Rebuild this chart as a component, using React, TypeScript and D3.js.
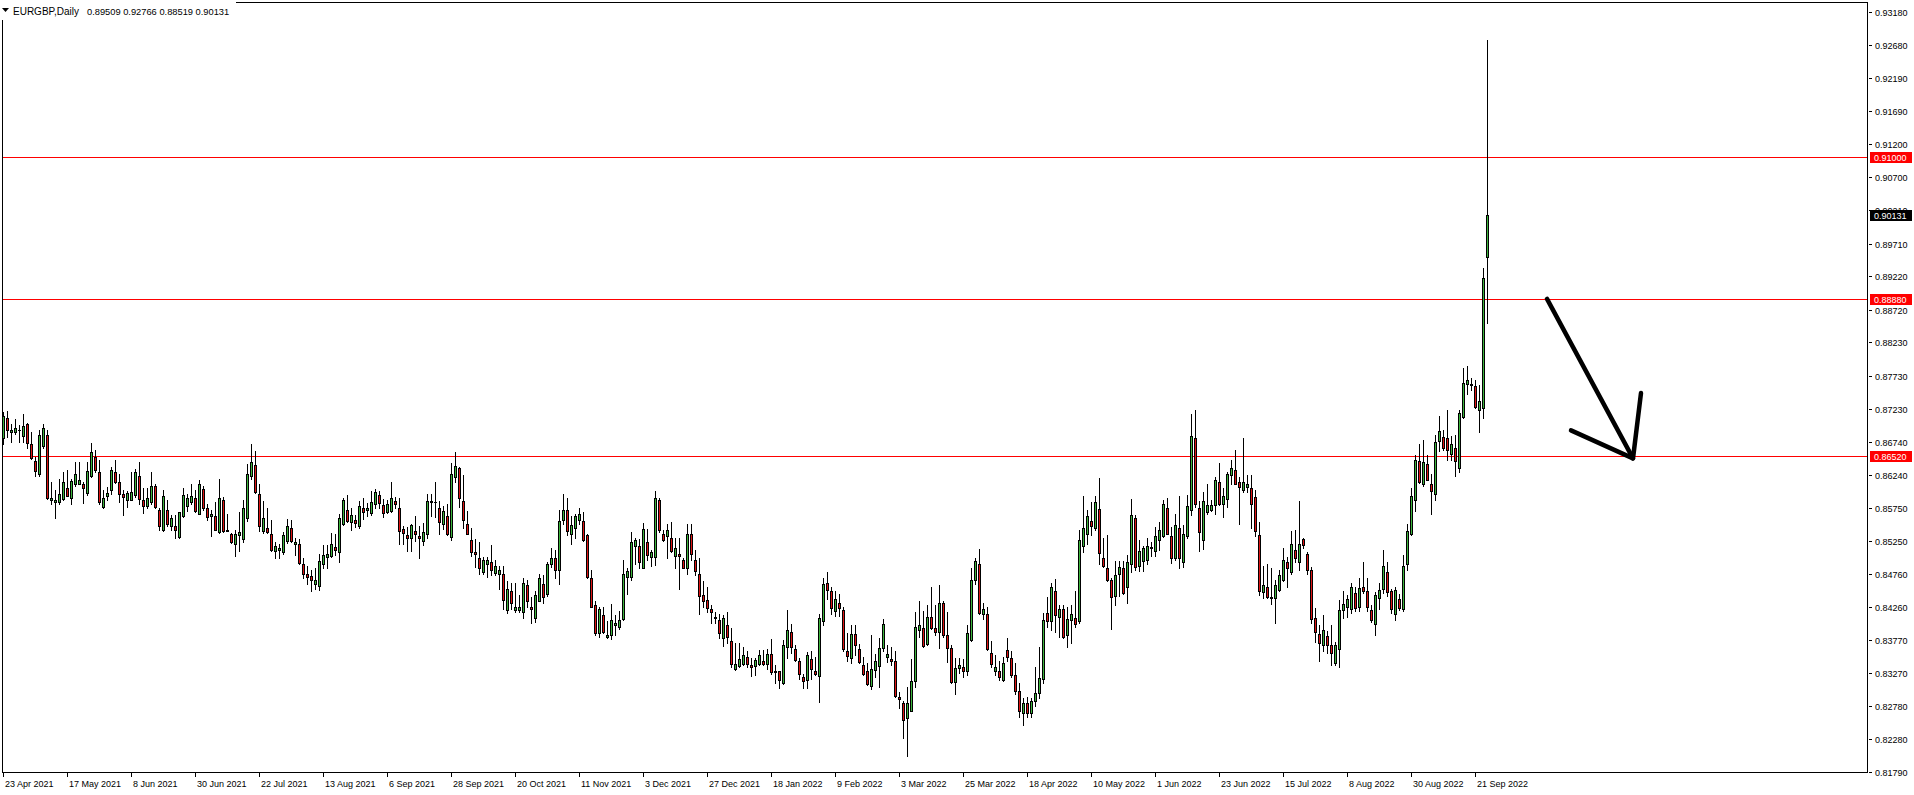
import React, { useMemo } from 'react'
import * as d3 from 'd3'

// EURGBP daily candles, 23 Apr 2021 .. 26 Sep 2022
const opens = [
  0.8679, 0.8709, 0.8688, 0.8688, 0.8691, 0.8683, 0.8701, 0.8670, 0.8645, 0.8626,
  0.8668, 0.8684, 0.8586, 0.8584, 0.8583, 0.8588, 0.8604, 0.8590, 0.8610, 0.8611,
  0.8611, 0.8597, 0.8622, 0.8651, 0.8628, 0.8576, 0.8592, 0.8601, 0.8628, 0.8613,
  0.8596, 0.8587, 0.8587, 0.8594, 0.8623, 0.8586, 0.8578, 0.8584, 0.8607, 0.8571,
  0.8542, 0.8572, 0.8548, 0.8548, 0.8531, 0.8563, 0.8578, 0.8584, 0.8589, 0.8566,
  0.8603, 0.8574, 0.8562, 0.8563, 0.8538, 0.8586, 0.8541, 0.8536, 0.8521, 0.8534,
  0.8528, 0.8560, 0.8623, 0.8639, 0.8596, 0.8540, 0.8545, 0.8536, 0.8510, 0.8512,
  0.8509, 0.8525, 0.8544, 0.8520, 0.8520, 0.8490, 0.8475, 0.8472, 0.8461, 0.8458,
  0.8490, 0.8501, 0.8503, 0.8516, 0.8509, 0.8550, 0.8571, 0.8554, 0.8556, 0.8548,
  0.8575, 0.8571, 0.8567, 0.8581, 0.8594, 0.8579, 0.8569, 0.8570, 0.8585, 0.8574,
  0.8543, 0.8534, 0.8530, 0.8540, 0.8532, 0.8525, 0.8535, 0.8583, 0.8584, 0.8575,
  0.8550, 0.8563, 0.8531, 0.8621, 0.8634, 0.8585, 0.8551, 0.8527, 0.8508, 0.8499,
  0.8479, 0.8491, 0.8493, 0.8477, 0.8476, 0.8476, 0.8422, 0.8450, 0.8422, 0.8422,
  0.8419, 0.8460, 0.8427, 0.8410, 0.8436, 0.8461, 0.8446, 0.8491, 0.8499, 0.8482,
  0.8556, 0.8571, 0.8536, 0.8545, 0.8557, 0.8555, 0.8534, 0.8469, 0.8429, 0.8388,
  0.8415, 0.8381, 0.8385, 0.8400, 0.8396, 0.8409, 0.8471, 0.8471, 0.8518, 0.8517,
  0.8485, 0.8523, 0.8501, 0.8501, 0.8587, 0.8535, 0.8533, 0.8529, 0.8502, 0.8506,
  0.8496, 0.8485, 0.8536, 0.8496, 0.8476, 0.8444, 0.8437, 0.8424, 0.8412, 0.8407,
  0.8380, 0.8399, 0.8376, 0.8334, 0.8338, 0.8341, 0.8351, 0.8339, 0.8338, 0.8341,
  0.8345, 0.8341, 0.8356, 0.8331, 0.8330, 0.8313, 0.8366, 0.8389, 0.8363, 0.8346,
  0.8321, 0.8317, 0.8349, 0.8331, 0.8323, 0.8406, 0.8463, 0.8450, 0.8421, 0.8433,
  0.8422, 0.8360, 0.8350, 0.8386, 0.8364, 0.8339, 0.8330, 0.8308, 0.8332, 0.8338,
  0.8365, 0.8351, 0.8348, 0.8345, 0.8291, 0.8283, 0.8260, 0.8271, 0.8316, 0.8392,
  0.8395, 0.8371, 0.8412, 0.8395, 0.8389, 0.8433, 0.8385, 0.8365, 0.8314, 0.8335,
  0.8337, 0.8331, 0.8377, 0.8466, 0.8490, 0.8416, 0.8416, 0.8358, 0.8330, 0.8330,
  0.8317, 0.8362, 0.8350, 0.8325, 0.8300, 0.8268, 0.8283, 0.8268, 0.8285, 0.8298,
  0.8318, 0.8418, 0.8405, 0.8451, 0.8411, 0.8423, 0.8385, 0.8407, 0.8410, 0.8405,
  0.8517, 0.8535, 0.8555, 0.8544, 0.8573, 0.8500, 0.8484, 0.8466, 0.8443, 0.8476,
  0.8484, 0.8456, 0.8491, 0.8560, 0.8488, 0.8495, 0.8497, 0.8516, 0.8510, 0.8527,
  0.8533, 0.8575, 0.8532, 0.8499, 0.8545, 0.8493, 0.8532, 0.8571, 0.8680, 0.8574,
  0.8526, 0.8568, 0.8571, 0.8579, 0.8614, 0.8580, 0.8588, 0.8624, 0.8632, 0.8613,
  0.8602, 0.8606, 0.8605, 0.8591, 0.8534, 0.8449, 0.8456, 0.8441, 0.8440, 0.8452,
  0.8467, 0.8493, 0.8478, 0.8512, 0.8494, 0.8528, 0.8506, 0.8481, 0.8410, 0.8386,
  0.8369, 0.8383, 0.8369, 0.8342, 0.8364, 0.8422, 0.8426, 0.8424, 0.8448, 0.8426,
  0.8457, 0.8450, 0.8422, 0.8401, 0.8440, 0.8454, 0.8478, 0.8450, 0.8416, 0.8439,
  0.8424, 0.8490, 0.8535, 0.8587, 0.8645, 0.8610, 0.8641, 0.8610, 0.8596, 0.8675,
  0.8681, 0.8680, 0.8656, 0.8665, 0.8635, 0.8711, 0.8760, 0.8760, 0.8757, 0.8722,
  0.8724, 0.89509
]

const highs = [
  0.8719, 0.8720, 0.8701, 0.8708, 0.8699, 0.8716, 0.8702, 0.8688, 0.8651, 0.8691,
  0.8700, 0.8692, 0.8614, 0.8601, 0.8618, 0.8629, 0.8631, 0.8618, 0.8644, 0.8644,
  0.8614, 0.8644, 0.8672, 0.8661, 0.8647, 0.8601, 0.8606, 0.8636, 0.8646, 0.8625,
  0.8601, 0.8600, 0.8628, 0.8633, 0.8644, 0.8605, 0.8605, 0.8628, 0.8611, 0.8574,
  0.8601, 0.8587, 0.8564, 0.8564, 0.8569, 0.8605, 0.8596, 0.8611, 0.8601, 0.8616,
  0.8608, 0.8581, 0.8571, 0.8583, 0.8618, 0.8591, 0.8566, 0.8537, 0.8542, 0.8569,
  0.8586, 0.8641, 0.8670, 0.8660, 0.8610, 0.8585, 0.8574, 0.8556, 0.8524, 0.8520,
  0.8538, 0.8558, 0.8556, 0.8529, 0.8528, 0.8499, 0.8487, 0.8481, 0.8485, 0.8505,
  0.8519, 0.8519, 0.8537, 0.8535, 0.8565, 0.8590, 0.8594, 0.8574, 0.8564, 0.8585,
  0.8589, 0.8582, 0.8600, 0.8603, 0.8600, 0.8588, 0.8586, 0.8614, 0.8591, 0.8589,
  0.8547, 0.8546, 0.8551, 0.8562, 0.8547, 0.8552, 0.8595, 0.8595, 0.8614, 0.8585,
  0.8577, 0.8581, 0.8642, 0.8658, 0.8636, 0.8624, 0.8570, 0.8545, 0.8528, 0.8523,
  0.8501, 0.8501, 0.8519, 0.8497, 0.8487, 0.8487, 0.8465, 0.8463, 0.8462, 0.8444,
  0.8470, 0.8466, 0.8441, 0.8451, 0.8476, 0.8474, 0.8494, 0.8514, 0.8511, 0.8571,
  0.8595, 0.8589, 0.8562, 0.8565, 0.8574, 0.8568, 0.8535, 0.8482, 0.8436, 0.8427,
  0.8426, 0.8405, 0.8431, 0.8415, 0.8420, 0.8496, 0.8485, 0.8539, 0.8530, 0.8528,
  0.8552, 0.8543, 0.8512, 0.8600, 0.8590, 0.8541, 0.8551, 0.8554, 0.8529, 0.8529,
  0.8499, 0.8550, 0.8550, 0.8511, 0.8499, 0.8465, 0.8456, 0.8429, 0.8419, 0.8416,
  0.8415, 0.8419, 0.8395, 0.8373, 0.8373, 0.8366, 0.8360, 0.8350, 0.8350, 0.8362,
  0.8362, 0.8363, 0.8379, 0.8339, 0.8331, 0.8377, 0.8422, 0.8401, 0.8370, 0.8350,
  0.8326, 0.8359, 0.8360, 0.8352, 0.8416, 0.8470, 0.8478, 0.8456, 0.8450, 0.8446,
  0.8426, 0.8387, 0.8400, 0.8400, 0.8371, 0.8352, 0.8342, 0.8384, 0.8356, 0.8380,
  0.8408, 0.8369, 0.8366, 0.8361, 0.8299, 0.8285, 0.8306, 0.8348, 0.8419, 0.8436,
  0.8420, 0.8430, 0.8456, 0.8429, 0.8459, 0.8436, 0.8419, 0.8369, 0.8350, 0.8350,
  0.8349, 0.8400, 0.8484, 0.8500, 0.8513, 0.8432, 0.8426, 0.8375, 0.8354, 0.8346,
  0.8352, 0.8380, 0.8360, 0.8343, 0.8312, 0.8290, 0.8292, 0.8290, 0.8336, 0.8367,
  0.8418, 0.8441, 0.8462, 0.8468, 0.8430, 0.8430, 0.8426, 0.8430, 0.8450, 0.8542,
  0.8592, 0.8571, 0.8584, 0.8592, 0.8619, 0.8530, 0.8534, 0.8470, 0.8495, 0.8495,
  0.8495, 0.8504, 0.8588, 0.8564, 0.8527, 0.8517, 0.8529, 0.8524, 0.8546, 0.8554,
  0.8586, 0.8589, 0.8546, 0.8565, 0.8592, 0.8549, 0.8594, 0.8715, 0.8721, 0.8585,
  0.8598, 0.8611, 0.8586, 0.8621, 0.8642, 0.8604, 0.8629, 0.8646, 0.8661, 0.8621,
  0.8679, 0.8624, 0.8624, 0.8602, 0.8554, 0.8487, 0.8490, 0.8484, 0.8466, 0.8481,
  0.8515, 0.8501, 0.8540, 0.8541, 0.8585, 0.8530, 0.8509, 0.8486, 0.8425, 0.8399,
  0.8415, 0.8391, 0.8400, 0.8374, 0.8437, 0.8451, 0.8445, 0.8462, 0.8456, 0.8470,
  0.8494, 0.8469, 0.8429, 0.8449, 0.8462, 0.8511, 0.8494, 0.8454, 0.8456, 0.8446,
  0.8504, 0.8550, 0.8605, 0.8654, 0.8670, 0.8676, 0.8654, 0.8626, 0.8684, 0.8712,
  0.8692, 0.8722, 0.8682, 0.8684, 0.8722, 0.8784, 0.8787, 0.8769, 0.8767, 0.8759,
  0.8934, 0.92766
]

const lows = [
  0.8671, 0.8681, 0.8674, 0.8685, 0.8674, 0.8674, 0.8664, 0.8648, 0.8622, 0.8622,
  0.8664, 0.8588, 0.8581, 0.8560, 0.8581, 0.8586, 0.8592, 0.8580, 0.8607, 0.8610,
  0.8582, 0.8594, 0.8621, 0.8628, 0.8580, 0.8574, 0.8586, 0.8596, 0.8612, 0.8584,
  0.8564, 0.8576, 0.8586, 0.8591, 0.8581, 0.8567, 0.8574, 0.8581, 0.8574, 0.8541,
  0.8540, 0.8547, 0.8541, 0.8530, 0.8530, 0.8561, 0.8570, 0.8581, 0.8569, 0.8565,
  0.8571, 0.8556, 0.8533, 0.8541, 0.8537, 0.8538, 0.8540, 0.8522, 0.8502, 0.8510,
  0.8524, 0.8555, 0.8618, 0.8597, 0.8540, 0.8537, 0.8537, 0.8510, 0.8500, 0.8500,
  0.8506, 0.8522, 0.8524, 0.8504, 0.8491, 0.8470, 0.8461, 0.8450, 0.8454, 0.8452,
  0.8485, 0.8484, 0.8501, 0.8504, 0.8494, 0.8549, 0.8554, 0.8541, 0.8546, 0.8545,
  0.8558, 0.8562, 0.8564, 0.8574, 0.8575, 0.8561, 0.8567, 0.8569, 0.8575, 0.8520,
  0.8520, 0.8510, 0.8510, 0.8525, 0.8500, 0.8519, 0.8529, 0.8562, 0.8561, 0.8536,
  0.8543, 0.8534, 0.8526, 0.8613, 0.8576, 0.8544, 0.8535, 0.8502, 0.8486, 0.8475,
  0.8475, 0.8471, 0.8474, 0.8474, 0.8454, 0.8424, 0.8417, 0.8423, 0.8419, 0.8419,
  0.8410, 0.8426, 0.8402, 0.8404, 0.8435, 0.8433, 0.8443, 0.8486, 0.8469, 0.8461,
  0.8551, 0.8534, 0.8520, 0.8530, 0.8551, 0.8525, 0.8469, 0.8426, 0.8384, 0.8382,
  0.8387, 0.8380, 0.8378, 0.8385, 0.8393, 0.8407, 0.8446, 0.8466, 0.8491, 0.8485,
  0.8484, 0.8496, 0.8488, 0.8489, 0.8539, 0.8525, 0.8500, 0.8508, 0.8485, 0.8454,
  0.8484, 0.8475, 0.8496, 0.8474, 0.8416, 0.8426, 0.8419, 0.8402, 0.8402, 0.8380,
  0.8368, 0.8372, 0.8336, 0.8332, 0.8336, 0.8339, 0.8337, 0.8323, 0.8325, 0.8339,
  0.8340, 0.8334, 0.8326, 0.8312, 0.8305, 0.8311, 0.8350, 0.8358, 0.8345, 0.8319,
  0.8305, 0.8305, 0.8319, 0.8324, 0.8284, 0.8400, 0.8439, 0.8416, 0.8413, 0.8413,
  0.8360, 0.8346, 0.8343, 0.8355, 0.8342, 0.8324, 0.8310, 0.8303, 0.8322, 0.8306,
  0.8361, 0.8344, 0.8339, 0.8291, 0.8275, 0.8230, 0.8203, 0.8270, 0.8307, 0.8382,
  0.8366, 0.8370, 0.8394, 0.8384, 0.8365, 0.8382, 0.8344, 0.8312, 0.8296, 0.8327,
  0.8322, 0.8324, 0.8375, 0.8461, 0.8416, 0.8408, 0.8362, 0.8336, 0.8325, 0.8317,
  0.8315, 0.8346, 0.8321, 0.8296, 0.8262, 0.8250, 0.8262, 0.8262, 0.8278, 0.8290,
  0.8312, 0.8396, 0.8392, 0.8389, 0.8381, 0.8380, 0.8366, 0.8373, 0.8396, 0.8403,
  0.8509, 0.8520, 0.8534, 0.8541, 0.8491, 0.8486, 0.8465, 0.8393, 0.8430, 0.8443,
  0.8446, 0.8432, 0.8479, 0.8481, 0.8480, 0.8480, 0.8490, 0.8503, 0.8503, 0.8512,
  0.8531, 0.8535, 0.8492, 0.8496, 0.8485, 0.8486, 0.8530, 0.8564, 0.8576, 0.8510,
  0.8513, 0.8566, 0.8570, 0.8566, 0.8579, 0.8561, 0.8576, 0.8611, 0.8610, 0.8551,
  0.8598, 0.8599, 0.8544, 0.8532, 0.8445, 0.8440, 0.8440, 0.8431, 0.8402, 0.8450,
  0.8465, 0.8456, 0.8476, 0.8494, 0.8482, 0.8515, 0.8475, 0.8402, 0.8374, 0.8345,
  0.8361, 0.8357, 0.8340, 0.8340, 0.8337, 0.8410, 0.8411, 0.8418, 0.8420, 0.8421,
  0.8448, 0.8420, 0.8404, 0.8385, 0.8424, 0.8448, 0.8443, 0.8418, 0.8407, 0.8422,
  0.8421, 0.8481, 0.8534, 0.8570, 0.8612, 0.8607, 0.8616, 0.8565, 0.8586, 0.8660,
  0.8662, 0.8647, 0.8647, 0.8623, 0.8629, 0.8709, 0.8746, 0.8752, 0.8724, 0.8689,
  0.8709, 0.88519
]

const closes = [
  0.8712, 0.8692, 0.8692, 0.8694, 0.8692, 0.8697, 0.8672, 0.8650, 0.8630, 0.8684,
  0.8694, 0.8590, 0.8589, 0.8587, 0.8596, 0.8613, 0.8593, 0.8615, 0.8625, 0.8616,
  0.8605, 0.8630, 0.8658, 0.8631, 0.8584, 0.8589, 0.8597, 0.8631, 0.8614, 0.8596,
  0.8591, 0.8597, 0.8599, 0.8628, 0.8588, 0.8578, 0.8590, 0.8608, 0.8576, 0.8548,
  0.8593, 0.8550, 0.8560, 0.8541, 0.8568, 0.8594, 0.8589, 0.8593, 0.8570, 0.8610,
  0.8574, 0.8561, 0.8566, 0.8542, 0.8589, 0.8540, 0.8540, 0.8523, 0.8536, 0.8539,
  0.8575, 0.8626, 0.8643, 0.8599, 0.8548, 0.8560, 0.8538, 0.8512, 0.8517, 0.8515,
  0.8534, 0.8547, 0.8525, 0.8523, 0.8492, 0.8476, 0.8471, 0.8467, 0.8466, 0.8495,
  0.8504, 0.8506, 0.8520, 0.8512, 0.8560, 0.8586, 0.8555, 0.8564, 0.8552, 0.8577,
  0.8569, 0.8574, 0.8583, 0.8598, 0.8582, 0.8567, 0.8580, 0.8590, 0.8580, 0.8540,
  0.8537, 0.8530, 0.8549, 0.8535, 0.8530, 0.8538, 0.8585, 0.8585, 0.8583, 0.8554,
  0.8570, 0.8535, 0.8626, 0.8637, 0.8590, 0.8557, 0.8536, 0.8509, 0.8506, 0.8485,
  0.8497, 0.8497, 0.8481, 0.8487, 0.8481, 0.8437, 0.8454, 0.8432, 0.8427, 0.8427,
  0.8463, 0.8435, 0.8424, 0.8444, 0.8469, 0.8442, 0.8490, 0.8500, 0.8481, 0.8555,
  0.8571, 0.8540, 0.8549, 0.8562, 0.8565, 0.8527, 0.8471, 0.8427, 0.8387, 0.8424,
  0.8389, 0.8385, 0.8407, 0.8402, 0.8407, 0.8475, 0.8480, 0.8523, 0.8526, 0.8494,
  0.8543, 0.8504, 0.8508, 0.8589, 0.8541, 0.8526, 0.8541, 0.8510, 0.8515, 0.8503,
  0.8485, 0.8535, 0.8505, 0.8480, 0.8443, 0.8435, 0.8425, 0.8419, 0.8410, 0.8387,
  0.8410, 0.8381, 0.8341, 0.8341, 0.8348, 0.8355, 0.8341, 0.8337, 0.8347, 0.8355,
  0.8341, 0.8356, 0.8329, 0.8329, 0.8317, 0.8369, 0.8392, 0.8366, 0.8347, 0.8326,
  0.8316, 0.8354, 0.8334, 0.8326, 0.8410, 0.8461, 0.8452, 0.8425, 0.8439, 0.8425,
  0.8363, 0.8353, 0.8386, 0.8370, 0.8344, 0.8326, 0.8311, 0.8334, 0.8345, 0.8365,
  0.8401, 0.8356, 0.8346, 0.8293, 0.8288, 0.8257, 0.8283, 0.8316, 0.8397, 0.8399,
  0.8368, 0.8412, 0.8395, 0.8389, 0.8433, 0.8385, 0.8365, 0.8314, 0.8335, 0.8339,
  0.8330, 0.8388, 0.8466, 0.8495, 0.8418, 0.8424, 0.8364, 0.8341, 0.8337, 0.8322,
  0.8343, 0.8352, 0.8325, 0.8300, 0.8270, 0.8283, 0.8268, 0.8285, 0.8298, 0.8320,
  0.8407, 0.8405, 0.8457, 0.8415, 0.8423, 0.8382, 0.8409, 0.8416, 0.8401, 0.8527,
  0.8545, 0.8562, 0.8548, 0.8583, 0.8507, 0.8488, 0.8466, 0.8441, 0.8474, 0.8486,
  0.8448, 0.8493, 0.8564, 0.8486, 0.8510, 0.8515, 0.8517, 0.8515, 0.8532, 0.8541,
  0.8580, 0.8536, 0.8500, 0.8549, 0.8499, 0.8535, 0.8577, 0.8682, 0.8581, 0.8539,
  0.8585, 0.8579, 0.8579, 0.8617, 0.8580, 0.8593, 0.8626, 0.8634, 0.8611, 0.8606,
  0.8614, 0.8610, 0.8581, 0.8540, 0.8450, 0.8460, 0.8441, 0.8440, 0.8459, 0.8474,
  0.8497, 0.8484, 0.8521, 0.8499, 0.8521, 0.8519, 0.8481, 0.8409, 0.8389, 0.8372,
  0.8392, 0.8370, 0.8357, 0.8370, 0.8422, 0.8431, 0.8439, 0.8456, 0.8425, 0.8455,
  0.8450, 0.8426, 0.8407, 0.8444, 0.8452, 0.8487, 0.8449, 0.8424, 0.8452, 0.8425,
  0.8487, 0.8540, 0.8592, 0.8647, 0.8614, 0.8643, 0.8617, 0.8600, 0.8674, 0.8690,
  0.8665, 0.8662, 0.8671, 0.8645, 0.8717, 0.8762, 0.8767, 0.8759, 0.8726, 0.8735,
  0.8920, 0.90131
]

const priceTicks = [
  '0.93180', '0.92680', '0.92190', '0.91690', '0.91200', '0.90700', '0.90210', '0.89710',
  '0.89220', '0.88720', '0.88230', '0.87730', '0.87230', '0.86740', '0.86240', '0.85750',
  '0.85250', '0.84760', '0.84260', '0.83770', '0.83270', '0.82780', '0.82280', '0.81790'
]

const dateLabels = [
  '23 Apr 2021', '17 May 2021', '8 Jun 2021', '30 Jun 2021', '22 Jul 2021', '13 Aug 2021',
  '6 Sep 2021', '28 Sep 2021', '20 Oct 2021', '11 Nov 2021', '3 Dec 2021', '27 Dec 2021',
  '18 Jan 2022', '9 Feb 2022', '3 Mar 2022', '25 Mar 2022', '18 Apr 2022', '10 May 2022',
  '1 Jun 2022', '23 Jun 2022', '15 Jul 2022', '8 Aug 2022', '30 Aug 2022', '21 Sep 2022'
]
const dateLabelBars = [
  0, 16, 32, 48, 64, 80, 96, 112, 128, 144, 160, 176,
  192, 208, 224, 240, 256, 272, 288, 304, 320, 336, 352, 368
]

const levelPrices = [0.91, 0.8888, 0.8652]
const levelLabels = ['0.91000', '0.88880', '0.86520']

const symbolTitle = 'EURGBP,Daily'
const lastQuote = ['0.89509', '0.92766', '0.88519', '0.90131']
const currentPrice = 0.90131

// hand drawn arrow, in (bar index, price)
const arrowFrom: [number, number] = [386, 0.8888]
const arrowTip: [number, number] = [407.5, 0.8649]
const arrowWingA: [number, number] = [392, 0.8691]
const arrowWingB: [number, number] = [409.5, 0.8747]

const W = 1914
const H = 795
const left = 2
const top = 2
const axisX = 1867
const bottom = 772
const FONT = '"Liberation Sans", Arial, sans-serif'
const GREEN = '#3cb43c'
const RED = '#dd1414'

export default function App() {
  const { x, y } = useMemo(() => {
    const n = closes.length
    // 4px per daily bar
    const x = d3.scaleLinear().domain([0, n - 1]).range([3, 3 + 4 * (n - 1)])
    const y = d3.scaleLinear().domain([0.8179, 0.9318]).range([bottom, 12])
    return { x, y }
  }, [])

  const arrowPath = d3.line()([arrowFrom, arrowTip].map(([b, p]) => [x(b), y(p)] as [number, number]))
  const wingPath = d3.line()([arrowWingA, arrowTip, arrowWingB].map(([b, p]) => [x(b), y(p)] as [number, number]))

  return (
    <>
      <style>{'body{margin:0;background:#fff}'}</style>
      <svg width={W} height={H} style={{ display: 'block', fontFamily: FONT }}>
        <rect x={0} y={0} width={W} height={H} fill="#fff" />

        {/* frame */}
        <g shapeRendering="crispEdges" stroke="#000" fill="none">
          <line x1={left + 0.5} x2={left + 0.5} y1={top} y2={bottom + 1} />
          <line x1={left} x2={axisX + 1} y1={top + 0.5} y2={top + 0.5} />
          <line x1={axisX + 0.5} x2={axisX + 0.5} y1={top} y2={bottom + 1} />
          <line x1={left} x2={axisX + 1} y1={bottom + 0.5} y2={bottom + 0.5} />
        </g>

        {/* horizontal levels */}
        <g shapeRendering="crispEdges">
          {levelPrices.map((p, i) => {
            const yy = Math.round(y(p)) + 0.5
            return <line key={i} x1={left + 1} x2={axisX} y1={yy} y2={yy} stroke="#ff0000" />
          })}
        </g>

        {/* candles */}
        <g shapeRendering="crispEdges">
          {closes.map((c, i) => {
            const o = opens[i]
            const cx = Math.round(x(i))
            const yh = Math.round(y(highs[i]))
            const yl = Math.round(y(lows[i]))
            const yTop = Math.round(y(Math.max(o, c)))
            const yBot = Math.round(y(Math.min(o, c)))
            const up = c >= o
            return (
              <g key={i}>
                <line x1={cx + 0.5} x2={cx + 0.5} y1={yh} y2={yl + 1} stroke="#000" />
                {yBot - yTop >= 1 ? (
                  <rect x={cx - 0.5} y={yTop + 0.5} width={2} height={yBot - yTop}
                    fill={up ? GREEN : RED} stroke="#000" />
                ) : (
                  <line x1={cx - 1} x2={cx + 2} y1={yTop + 0.5} y2={yTop + 0.5} stroke="#000" />
                )}
              </g>
            )
          })}
        </g>

        {/* arrow */}
        <g fill="none" stroke="#000" strokeWidth={4.5} strokeLinecap="round" strokeLinejoin="round">
          <path d={arrowPath || ''} />
          <path d={wingPath || ''} />
        </g>

        {/* price axis */}
        <g fontSize={9} fill="#000">
          {priceTicks.map(t => {
            const yy = Math.round(y(+t))
            return (
              <g key={t}>
                <line x1={axisX + 2} x2={axisX + 5} y1={yy + 0.5} y2={yy + 0.5} stroke="#000" shapeRendering="crispEdges" />
                <text x={axisX + 8} y={yy + 3.5}>{t}</text>
              </g>
            )
          })}
        </g>

        {/* level tags */}
        {levelPrices.map((p, i) => {
          const yy = Math.round(y(p))
          return (
            <g key={i}>
              <rect x={axisX + 3} y={yy - 5} width={W - axisX - 5} height={11} fill="#ff0000" shapeRendering="crispEdges" />
              <text x={axisX + 7} y={yy + 3.5} fontSize={9} fill="#fff">{levelLabels[i]}</text>
            </g>
          )
        })}

        {/* current price tag */}
        <g>
          <rect x={axisX + 3} y={Math.round(y(currentPrice)) - 5} width={W - axisX - 5} height={11} fill="#000" shapeRendering="crispEdges" />
          <text x={axisX + 7} y={Math.round(y(currentPrice)) + 3.5} fontSize={9} fill="#fff">{lastQuote[3]}</text>
        </g>

        {/* time axis */}
        <g fontSize={9} fill="#000">
          {dateLabels.map((d, i) => {
            const bx = Math.round(x(dateLabelBars[i]))
            return (
              <g key={d}>
                <line x1={bx + 0.5} x2={bx + 0.5} y1={bottom + 1} y2={bottom + 5} stroke="#000" shapeRendering="crispEdges" />
                <text x={bx + 2} y={bottom + 15}>{d}</text>
              </g>
            )
          })}
        </g>

        {/* header */}
        <rect x={0} y={0} width={236} height={20} fill="#fff" />
        <path d="M2,8 L9,8 L5.5,12 Z" fill="#000" />
        <text x={13} y={15} fontSize={10} fill="#000">{symbolTitle}</text>
        <text x={87} y={15} fontSize={9.3} fill="#000">{lastQuote.join(' ')}</text>
      </svg>
    </>
  )
}
